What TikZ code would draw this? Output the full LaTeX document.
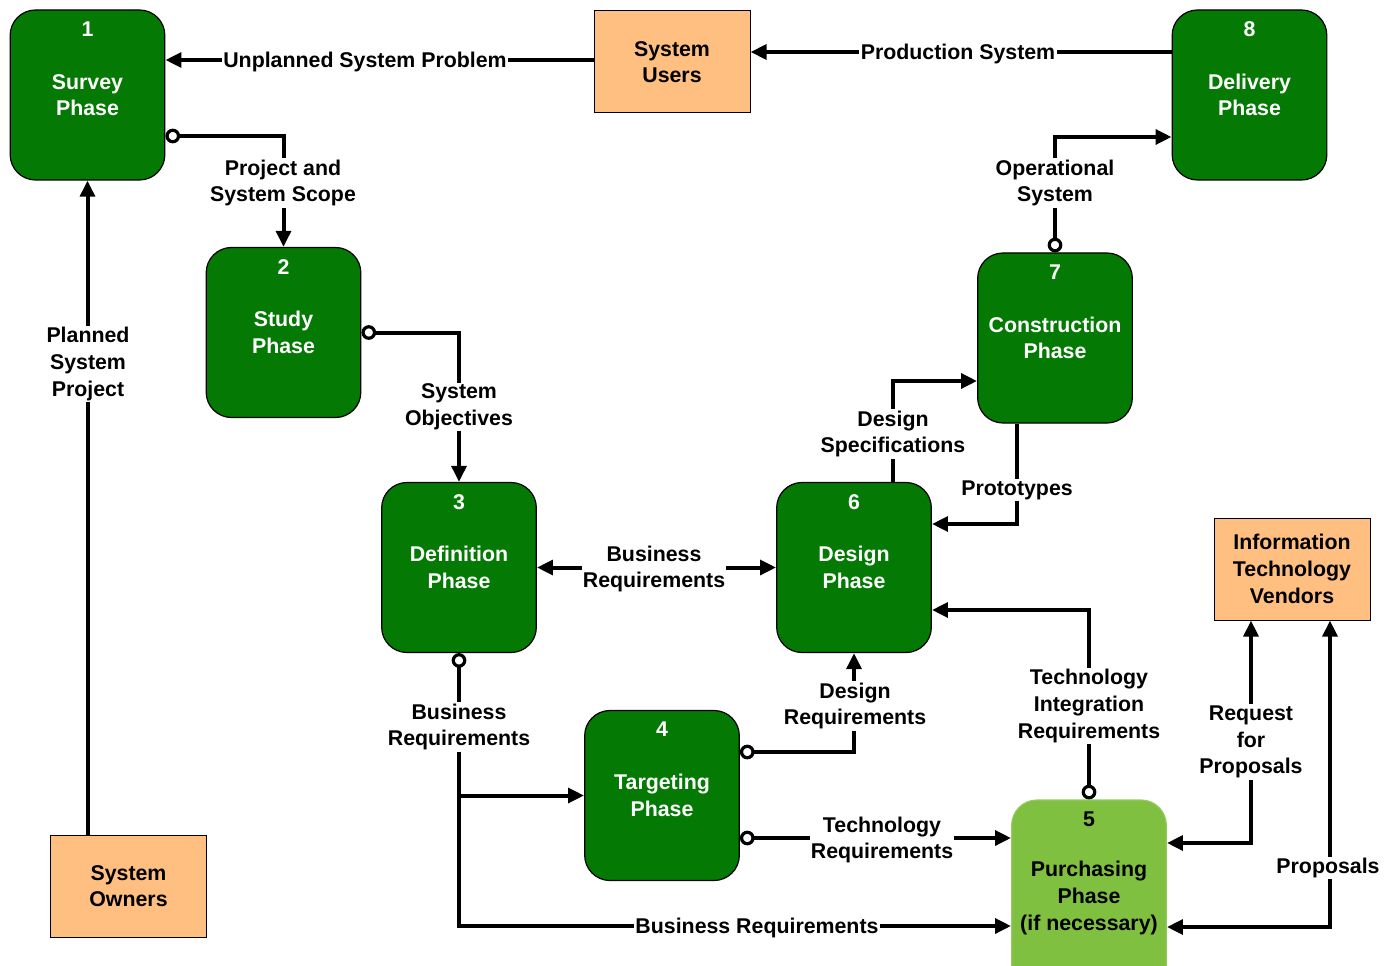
\documentclass[tikz,border=0pt]{standalone}
\usepackage{fontspec}
\setmainfont{Liberation Sans}
\usetikzlibrary{arrows.meta,positioning}
\definecolor{phasegreen}{RGB}{4,122,4}
\definecolor{buygreen}{RGB}{128,192,64}
\definecolor{actororange}{RGB}{255,191,128}

\begin{document}
\begin{tikzpicture}[
    x=0.75pt, y=-0.75pt,
    font=\bfseries\fontsize{16}{20}\selectfont,
    phase/.style={draw, line width=0.9pt, fill=phasegreen, text=white, rounded corners=19pt, minimum width=116pt, minimum height=127.5pt, align=center},
    buy/.style={phase, draw=buygreen!85!white, fill=buygreen, text=black, minimum height=147pt},
    actor/.style={draw, line width=0.75pt, fill=actororange, minimum width=117pt, minimum height=76.5pt, align=center},
    num/.style={anchor=north, inner sep=0pt, yshift=-9pt, text=white},
    flow/.style={line width=3pt, -{Triangle[length=12pt,width=11pt]}},
    oflow/.style={line width=3pt, {Circle[open,length=11pt,width=11pt,line width=2.4pt]}-{Triangle[length=12pt,width=11pt]}},
    twoway/.style={line width=3pt, {Triangle[length=12pt,width=11pt]}-{Triangle[length=12pt,width=11pt]}},
    lbl/.style={fill=white, inner sep=1pt, align=center, yshift=-1.5pt}
]
\useasboundingbox (0,0) rectangle (1398,966);

% phases
\node[phase, label={[num]north:1}] (survey) at (87.5,95) {Survey\\Phase};
\node[phase, label={[num]north:2}] (study) at (283.5,332.5) {Study\\Phase};
\node[phase, label={[num]north:3}] (definition) at (459,567.5) {Definition\\Phase};
\node[phase, label={[num]north:4}] (targeting) at (662,795.5) {Targeting\\Phase};
\node[buy, label={[num, text=black]north:5}] (purchasing) at (1089,898) {Purchasing\\Phase\\(if necessary)};
\node[phase, label={[num]north:6}] (design) at (854,567.5) {Design\\Phase};
\node[phase, label={[num]north:7}] (construction) at (1055,338) {Construction\\Phase};
\node[phase, label={[num]north:8}] (delivery) at (1249.5,95) {Delivery\\Phase};

% people outside
\node[actor] (users) at (672,62) {System\\Users};
\node[actor] (owners) at (128.5,886) {System\\Owners};
\node[actor] (vendors) at (1292,569) {Information\\Technology\\Vendors};

% flows
\draw[flow] (users.west |- 0,60) -- (survey.east |- 0,60);
\draw[flow] (delivery.west |- 0,52) -- (users.east |- 0,52);
\draw[oflow] (survey.east |- 0,136) -| (study.north);
\draw[oflow] (study.east) -| (definition.north);
\draw[flow] (survey.south |- owners.north) -- (survey.south);
\draw[twoway] (definition.east) -- (design.west);
\draw[oflow] (definition.south) -- (definition.south |- 0,926) -- (purchasing.west |- 0,926);
\draw[flow] (definition.south |- targeting.west) -- (targeting.west);
\draw[oflow] (targeting.east |- 0,752) -| (design.south);
\draw[oflow] (targeting.east |- 0,838) -- (purchasing.west |- 0,838);
\draw[oflow] (purchasing.north) |- (design.east |- 0,610);
\draw[flow] (design.north -| 893,0) |- (construction.west |- 0,381);
\draw[flow] (construction.south -| 1017,0) |- (design.east |- 0,524);
\draw[oflow] (construction.north) |- (delivery.west |- 0,137);
\draw[twoway] (purchasing.east |- 0,843) -| (vendors.south -| 1251,0);
\draw[twoway] (purchasing.east |- 0,927) -| (vendors.south -| 1330,0);

% flow labels
\node[lbl] (unplanned) at (365,60) {Unplanned System Problem};
\node[lbl] (production) at (958,52) {Production System};
\node[lbl] (scope) at (283,181) {Project and\\System Scope};
\node[lbl] (objectives) at (459,405) {System\\Objectives};
\node[lbl] (planned) at (88,362) {Planned\\System\\Project};
\node[lbl] (busreq) at (654,567) {Business\\Requirements};
\node[lbl] (busreqdown) at (459,725) {Business\\Requirements};
\node[lbl] (busreqbuy) at (757,926) {Business Requirements};
\node[lbl] (designreq) at (855,704) {Design\\Requirements};
\node[lbl] (techreq) at (882,838) {Technology\\Requirements};
\node[lbl] (integration) at (1089,704) {Technology\\Integration\\Requirements};
\node[lbl] (specs) at (893,432) {Design\\Specifications};
\node[lbl] (prototypes) at (1017,488) {Prototypes};
\node[lbl] (operational) at (1055,181) {Operational\\System};
\node[lbl] (rfp) at (1251,740) {Request\\for\\Proposals};
\node[lbl] (proposals) at (1328,866) {Proposals};
\end{tikzpicture}
\end{document}
